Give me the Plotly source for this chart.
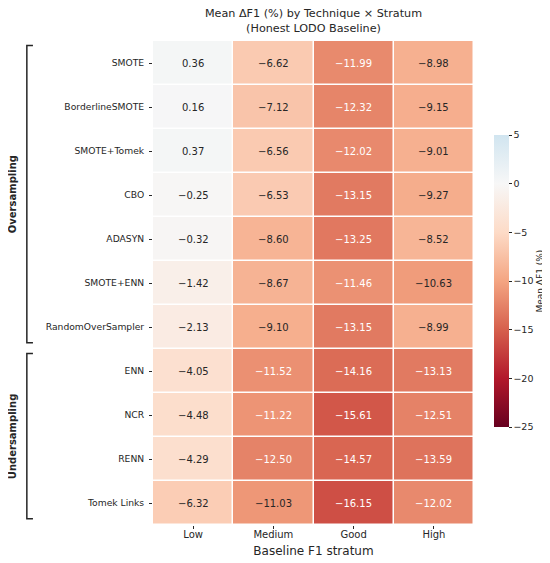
"""Mean ΔF1 heatmap by technique and baseline stratum."""

import plotly.graph_objects as go

# データ
techniques = [
    "SMOTE",
    "BorderlineSMOTE",
    "SMOTE+Tomek",
    "CBO",
    "ADASYN",
    "SMOTE+ENN",
    "RandomOverSampler",
    "ENN",
    "NCR",
    "RENN",
    "Tomek Links",
]
strata = ["Low", "Medium", "Good", "High"]

low_vals = [0.36, 0.16, 0.37, -0.25, -0.32, -1.42, -2.13, -4.05, -4.48, -4.29, -6.32]
medium_vals = [-6.62, -7.12, -6.56, -6.53, -8.60, -8.67, -9.10, -11.52, -11.22, -12.50, -11.03]
good_vals = [-11.99, -12.32, -12.02, -13.15, -13.25, -11.46, -13.15, -14.16, -15.61, -14.57, -16.15]
high_vals = [-8.98, -9.15, -9.01, -9.27, -8.52, -10.63, -8.99, -13.13, -12.51, -13.59, -12.02]

groups = [
    ("Oversampling", "SMOTE", "RandomOverSampler"),
    ("Undersampling", "ENN", "Tomek Links"),
]

z_min, z_max = -25, 5
cbar_ticks = [-25, -20, -15, -10, -5, 0, 5]

# RdBu の 0〜0.6 部分 (center=0)
scale_colors = ["#67001f", "#b2182b", "#d6604d", "#f4a582", "#fddbc7", "#f7f7f7", "#d1e5f0"]
colorscale = [[i / (len(scale_colors) - 1), c] for i, c in enumerate(scale_colors)]

FONT = "DejaVu Sans"
DARK = "#262626"


def _hex_to_rgb(h):
    h = h.lstrip("#")
    return [int(h[i:i + 2], 16) for i in (0, 2, 4)]


def _color_at(v):
    t = (v - z_min) / (z_max - z_min) * (len(scale_colors) - 1)
    i = min(int(t), len(scale_colors) - 2)
    f = t - i
    a, b = _hex_to_rgb(scale_colors[i]), _hex_to_rgb(scale_colors[i + 1])
    return [a[k] + (b[k] - a[k]) * f for k in range(3)]


def _luminance(rgb):
    out = []
    for c in rgb:
        c = c / 255
        out.append(c / 12.92 if c <= 0.03928 else ((c + 0.055) / 1.055) ** 2.4)
    return 0.2126 * out[0] + 0.7152 * out[1] + 0.0722 * out[2]


columns = [low_vals, medium_vals, good_vals, high_vals]
z = [[col[r] for col in columns] for r in range(len(techniques))]

fig = go.Figure()
fig.add_trace(
    go.Heatmap(
        z=z,
        x=strata,
        y=techniques,
        zmin=z_min,
        zmax=z_max,
        colorscale=colorscale,
        xgap=1.5,
        ygap=1.5,
        hoverinfo="skip",
        colorbar={
            "x": 1.062,
            "xanchor": "left",
            "xpad": 0,
            "y": 0.504,
            "yanchor": "middle",
            "ypad": 0,
            "len": 0.603,
            "thickness": 15,
            "outlinewidth": 0,
            "ticks": "outside",
            "ticklen": 3,
            "tickcolor": DARK,
            "tickvals": cbar_ticks,
            "ticktext": [str(t).replace("-", "\u2212") for t in cbar_ticks],
            "tickfont": {"family": FONT, "size": 9.5, "color": DARK},
            "title": {
                "text": "Mean ΔF1 (%)",
                "side": "right",
                "font": {"family": FONT, "size": 9, "color": DARK},
            },
        },
    )
)

# セル内の数値
for r, tech in enumerate(techniques):
    for c, stratum in enumerate(strata):
        v = z[r][c]
        txt_color = DARK if _luminance(_color_at(v)) > 0.408 else "white"
        fig.add_annotation(
            x=stratum,
            y=tech,
            text=f"{v:.2f}".replace("-", "\u2212"),
            showarrow=False,
            font={"family": FONT, "size": 10, "color": txt_color},
        )

# グループの括弧とラベル
for name, first, last in groups:
    y0 = techniques.index(first) - 0.4
    y1 = techniques.index(last) + 0.36
    fig.add_shape(
        type="path",
        xref="paper",
        yref="y",
        path=f"M -0.374 {y0} L -0.393 {y0} L -0.393 {y1} L -0.374 {y1}",
        line={"color": DARK, "width": 1.5},
    )
    fig.add_annotation(
        x=-0.439,
        y=(y0 + y1) / 2,
        xref="paper",
        yref="y",
        xanchor="center",
        yanchor="middle",
        text=f"<b>{name}</b>",
        textangle=-90,
        showarrow=False,
        font={"family": FONT, "size": 10, "color": DARK},
    )

# ページ余白 (8px) を見込んだサイズ
fig.update_layout(
    width=542,
    height=555,
    margin={"l": 145, "r": 76, "t": 33, "b": 38, "autoexpand": False},
    paper_bgcolor="white",
    plot_bgcolor="white",
    font={"family": FONT, "color": DARK},
    title={
        "text": "Mean ΔF1 (%) by Technique × Stratum<br>(Honest LODO Baseline)",
        "x": 0.5,
        "xref": "paper",
        "xanchor": "center",
        "y": 0.983,
        "yanchor": "top",
        "font": {"family": FONT, "size": 11.2, "color": DARK},
    },
    xaxis={
        "title": {"text": "Baseline F1 stratum", "font": {"size": 12}, "standoff": 7},
        "ticks": "outside",
        "ticklen": 3,
        "tickcolor": DARK,
        "tickfont": {"size": 10},
        "ticklabelstandoff": -3,
        "showgrid": False,
        "zeroline": False,
    },
    yaxis={
        "autorange": "reversed",
        "ticks": "outside",
        "ticklen": 3,
        "tickcolor": DARK,
        "tickfont": {"size": 9.2},
        "ticklabelstandoff": 3,
        "showgrid": False,
        "zeroline": False,
    },
)

fig.write_html("out.html")
